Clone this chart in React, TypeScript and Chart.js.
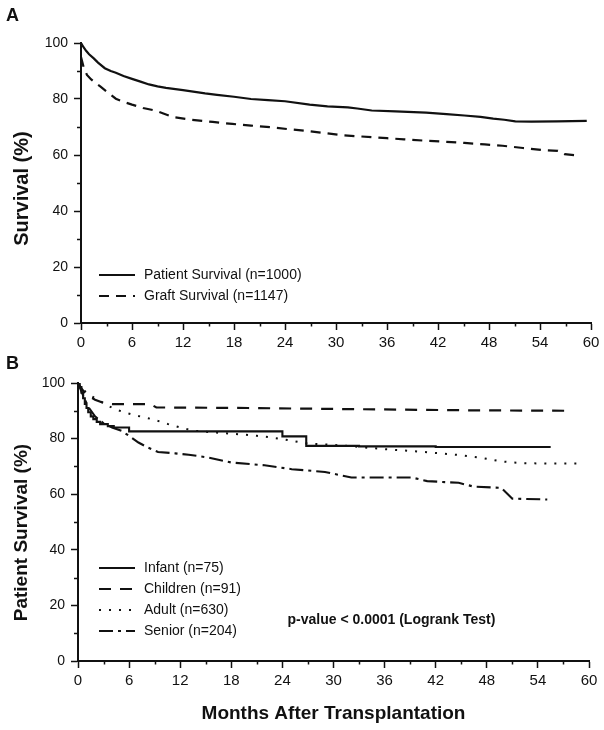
import React, { useEffect, useRef } from 'react';
import { Chart, registerables } from 'chart.js';

Chart.register(...registerables);

// ---------- Panel A data ----------
const patientMonths = [0, 0.3, 0.6, 0.95, 1.5, 2, 2.8, 3.5, 4.1, 5, 6, 7, 8, 9, 10, 12, 14.6, 16, 18, 20, 22, 24, 26.9, 29, 31.4, 32.5, 34.2, 37, 40.6, 43, 45.1, 47, 48.5, 49.8, 51.1, 53, 56, 59.5];
const patientValues = [100, 98.5, 97.2, 96, 94.5, 93, 91, 90, 89.4, 88.2, 87.2, 86.2, 85.2, 84.5, 84, 83.2, 82, 81.5, 80.8, 80, 79.6, 79.2, 78, 77.4, 77, 76.6, 75.9, 75.6, 75.1, 74.6, 74.1, 73.6, 73, 72.6, 72, 71.9, 72, 72.2];

const graftMonths = [0, 0.3, 0.7, 1.2, 1.8, 2.3, 3.2, 4.1, 5, 6, 7.3, 8.7, 10.9, 13, 15.5, 17.8, 20, 22.4, 24.5, 26.9, 28.5, 30.6, 33, 36, 38, 40.6, 43, 45.1, 47.5, 49.6, 52, 54.2, 56.1, 56.9, 58.8];
const graftValues = [95, 91.5, 88.6, 87, 85.5, 84.4, 82.2, 80.1, 79, 78, 76.8, 75.9, 73.5, 72.6, 71.8, 71.1, 70.5, 69.9, 69.2, 68.5, 67.9, 67.1, 66.6, 66, 65.6, 65.1, 64.7, 64.3, 63.8, 63.3, 62.5, 61.8, 61.5, 60.3, 59.7];

// ---------- Panel B data ----------
const infantMonths = [0, 0.2, 0.4, 0.6, 0.8, 1.0, 1.2, 1.5, 1.8, 2.2, 2.6, 3.5, 4.2, 6.0, 24.0, 26.8, 33, 42, 55.5];
const infantValues = [100, 98.5, 96.5, 94.5, 92.5, 91, 89.5, 88, 87, 86, 85.2, 84.5, 84, 82.6, 80.8, 77.4, 77.2, 77.0, 77.0];

const childrenMonths = [0, 0.4, 0.8, 1.3, 2, 3, 4, 8.5, 9.2, 20, 32, 45, 57.8];
const childrenValues = [100, 98, 96.5, 95.2, 94, 92.8, 92.4, 92.4, 91.2, 91, 90.6, 90.2, 90];

const adultMonths = [0, 0.5, 1, 2, 3.2, 4.3, 5.5, 7, 8.7, 10.6, 12, 13.7, 16, 18.8, 21, 22.7, 24, 25.5, 27, 29, 31.5, 36, 40.6, 45.1, 47.5, 49.7, 52, 55, 58.7];
const adultValues = [100, 98, 96.5, 94.5, 92.4, 90.6, 89.4, 88.2, 87, 85.2, 84, 82.8, 82.2, 81.6, 81, 80.4, 79.8, 79, 78.2, 77.9, 77.4, 76.2, 75.2, 74, 73, 71.8, 71.2, 71, 71];

const seniorMonths = [0, 0.4, 0.8, 1.3, 2, 3, 4, 5.1, 6, 7.1, 8.2, 9.4, 11.4, 13, 15.3, 18, 21.9, 25.1, 29, 32.1, 35, 39.2, 41, 44.7, 46.5, 49.7, 51, 55.1];
const seniorValues = [100, 97, 94, 91, 88, 85.5, 84, 82.8, 81, 78.6, 76.8, 75.2, 74.7, 74.2, 73.2, 71.4, 70.4, 69, 68, 66, 66, 66, 64.7, 64.1, 62.7, 62.3, 58.4, 58.1];

// ---------- Axis ticks & labels ----------
const xMajorTicks = [0, 6, 12, 18, 24, 30, 36, 42, 48, 54, 60];
const xMinorTicks = [3, 9, 15, 21, 27, 33, 39, 45, 51, 57];
const yMajorTicks = [0, 20, 40, 60, 80, 100];
const yMinorTicks = [10, 30, 50, 70, 90];

const labelsA = ['Patient Survival (n=1000)', 'Graft Survival (n=1147)'];
const labelsB = ['Infant (n=75)', 'Children (n=91)', 'Adult (n=630)', 'Senior (n=204)'];
const titleA = 'Survival (%)';
const titleB = 'Patient Survival (%)';
const xTitle = 'Months After Transplantation';
const pValueText = 'p-value < 0.0001 (Logrank Test)';
const pValueAnchor = [24.6, 14.8];

const INK = '#111111';
const FONT = "'Liberation Sans', Arial, Helvetica, sans-serif";

Chart.defaults.font.family = FONT;
Chart.defaults.color = INK;

const zip = (xs: number[], ys: number[]) => xs.map((x, i) => ({ x, y: ys[i] }));

// ---------- Plugins ----------
const customLegend = {
  id: 'customLegend',
  afterDraw(chart: any, _args: any, opts: any) {
    if (!opts || !opts.show) return;
    const ctx = chart.ctx;
    ctx.save();
    chart.data.datasets.forEach((ds: any, i: number) => {
      const y = opts.y + i * opts.rowGap;
      ctx.beginPath();
      ctx.setLineDash(ds.borderDash || []);
      ctx.lineWidth = ds.borderWidth;
      ctx.strokeStyle = ds.borderColor;
      ctx.lineCap = 'butt';
      ctx.moveTo(opts.x, y);
      ctx.lineTo(opts.x + opts.lineLength, y);
      ctx.stroke();
      ctx.setLineDash([]);
      ctx.font = `${opts.fontSize}px ${FONT}`;
      ctx.fillStyle = INK;
      ctx.textAlign = 'left';
      ctx.textBaseline = 'middle';
      ctx.fillText(ds.label, opts.x + opts.lineLength + opts.gap, y);
    });
    ctx.restore();
  },
};

const minorTicks = {
  id: 'minorTicks',
  afterDraw(chart: any, _args: any, opts: any) {
    if (!opts || !opts.show) return;
    const ctx = chart.ctx;
    const xs = chart.scales.x;
    const ys = chart.scales.y;
    const area = chart.chartArea;
    ctx.save();
    ctx.strokeStyle = INK;
    ctx.lineWidth = 1.5;
    ctx.beginPath();
    (opts.xValues as number[]).forEach((v) => {
      const px = Math.round(xs.getPixelForValue(v)) + 0.5;
      ctx.moveTo(px, area.bottom);
      ctx.lineTo(px, area.bottom + opts.xLen);
    });
    (opts.yValues as number[]).forEach((v) => {
      const py = Math.round(ys.getPixelForValue(v)) + 0.5;
      ctx.moveTo(area.left, py);
      ctx.lineTo(area.left - opts.yLen, py);
    });
    ctx.stroke();
    ctx.restore();
  },
};

const panelText = {
  id: 'panelText',
  afterDraw(chart: any, _args: any, opts: any) {
    if (!opts || !opts.show) return;
    const ctx = chart.ctx;
    ctx.save();
    ctx.fillStyle = INK;
    ctx.textAlign = 'left';
    ctx.textBaseline = 'alphabetic';
    ctx.font = `bold 18px ${FONT}`;
    ctx.fillText(opts.letter, opts.letterX, opts.letterY);
    if (opts.note) {
      ctx.font = `bold 14px ${FONT}`;
      ctx.textBaseline = 'middle';
      const px = chart.scales.x.getPixelForValue(opts.noteAt[0]);
      const py = chart.scales.y.getPixelForValue(opts.noteAt[1]);
      ctx.fillText(opts.note, px, py);
    }
    ctx.restore();
  },
};

Chart.register(customLegend, minorTicks, panelText);

// ---------- Config builder ----------
function makeConfig(p: any) {
  return {
    type: 'line',
    data: { datasets: p.datasets },
    options: {
      responsive: false,
      animation: false,
      devicePixelRatio: 1,
      layout: { padding: { top: p.top, right: p.right, left: 0, bottom: 0 } },
      elements: { point: { radius: 0, hoverRadius: 0 }, line: { tension: 0 } },
      events: [],
      scales: {
        x: {
          type: 'linear',
          min: 0,
          max: 60,
          afterFit: (s: any) => { s.height = p.xHeight; },
          afterBuildTicks: (s: any) => { s.ticks = xMajorTicks.map((v) => ({ value: v })); },
          border: { display: true, color: INK, width: 2 },
          grid: { display: true, drawOnChartArea: false, drawTicks: true, tickLength: 7, tickWidth: 1.5, tickColor: INK, color: INK },
          ticks: { font: { size: 15 }, color: INK, padding: 4, maxRotation: 0, autoSkip: false },
          title: p.xTitle
            ? { display: true, text: p.xTitle, font: { size: 19, weight: 'bold' }, color: INK, padding: { top: 0, bottom: 5 } }
            : { display: false },
        },
        y: {
          type: 'linear',
          min: 0,
          max: 100,
          afterFit: (s: any) => { s.width = p.yWidth; },
          afterBuildTicks: (s: any) => { s.ticks = yMajorTicks.map((v) => ({ value: v })); },
          border: { display: true, color: INK, width: 2 },
          grid: { display: true, drawOnChartArea: false, drawTicks: true, tickLength: 7, tickWidth: 1.5, tickColor: INK, color: INK },
          ticks: { font: { size: 14 }, color: INK, padding: 6 },
          title: { display: true, text: p.yTitle, font: { size: p.yTitleSize, weight: 'bold' }, color: INK, padding: { top: 10, bottom: 0 } },
        },
      },
      plugins: {
        legend: { display: false },
        tooltip: { enabled: false },
        customLegend: { show: true, x: 99, y: p.legendY, rowGap: 21, lineLength: 36, gap: 9, fontSize: 14 },
        minorTicks: { show: true, xValues: xMinorTicks, yValues: yMinorTicks, xLen: 3.5, yLen: 4 },
        panelText: { show: true, letter: p.letter, letterX: 6, letterY: p.letterY, note: p.note || '', noteAt: pValueAnchor },
      },
    },
  } as any;
}

const configA = () =>
  makeConfig({
    top: 43,
    right: 13,
    xHeight: 27,
    yWidth: 81,
    yTitle: titleA + '  ',
    yTitleSize: 20,
    legendY: 275,
    letter: 'A',
    letterY: 21,
    datasets: [
      { label: labelsA[0], data: zip(patientMonths, patientValues), borderColor: INK, borderWidth: 2.2, borderDash: [] },
      { label: labelsA[1], data: zip(graftMonths, graftValues), borderColor: INK, borderWidth: 2.2, borderDash: [10, 7] },
    ],
  });

const configB = () =>
  makeConfig({
    top: 33,
    right: 15,
    xHeight: 69,
    yWidth: 78,
    yTitle: titleB + '    ',
    yTitleSize: 19,
    xTitle,
    legendY: 218,
    letter: 'B',
    letterY: 19,
    note: pValueText,
    datasets: [
      { label: labelsB[0], data: zip(infantMonths, infantValues), borderColor: INK, borderWidth: 2.1, borderDash: [], stepped: true },
      { label: labelsB[1], data: zip(childrenMonths, childrenValues), borderColor: INK, borderWidth: 2.2, borderDash: [12, 9] },
      { label: labelsB[2], data: zip(adultMonths, adultValues), borderColor: INK, borderWidth: 2, borderDash: [2, 8] },
      { label: labelsB[3], data: zip(seniorMonths, seniorValues), borderColor: INK, borderWidth: 2.1, borderDash: [14, 5, 3, 5] },
    ],
  });

function Panel({ make, height }: { make: () => any; height: number }) {
  const ref = useRef<HTMLCanvasElement>(null);
  useEffect(() => {
    if (!ref.current) return;
    const chart = new Chart(ref.current, make());
    return () => chart.destroy();
  }, [make]);
  return <canvas ref={ref} width={604} height={height} style={{ display: 'block', width: 604, height }} />;
}

export default function App() {
  return (
    <div style={{ position: 'absolute', left: 0, top: 0, width: 604, height: 730, background: '#ffffff' }}>
      <Panel make={configA} height={350} />
      <Panel make={configB} height={380} />
    </div>
  );
}
